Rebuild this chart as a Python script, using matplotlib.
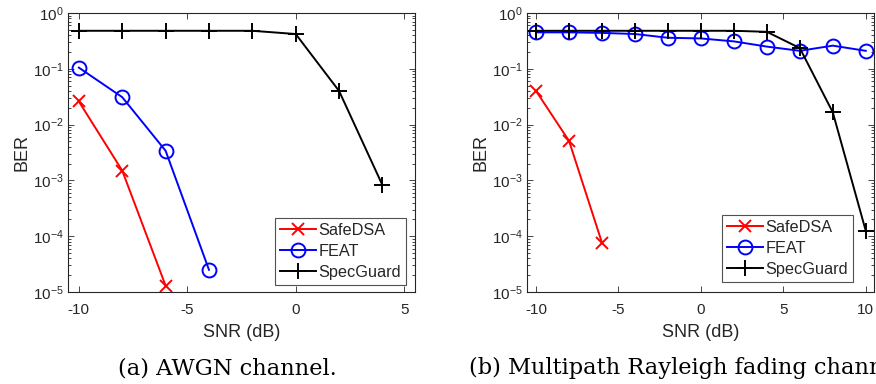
import matplotlib
matplotlib.use("Agg")
import matplotlib.pyplot as plt
from matplotlib.ticker import LogLocator, NullFormatter

snr_a = [-10, -8, -6, -4, -2, 0, 2, 4]
safedsa_a = [0.026, 0.0015, 1.3e-5]
feat_a = [0.105, 0.031, 0.0034, 2.5e-5]
specguard_a = [0.48, 0.48, 0.48, 0.48, 0.48, 0.42, 0.040, 8.2e-4]

snr_b = [-10, -8, -6, -4, -2, 0, 2, 4, 6, 8, 10]
safedsa_b = [0.040, 0.0051, 7.6e-5]
feat_b = [0.45, 0.45, 0.44, 0.42, 0.36, 0.35, 0.31, 0.25, 0.21, 0.26, 0.21]
specguard_b = [0.48, 0.48, 0.48, 0.48, 0.48, 0.48, 0.48, 0.46, 0.235, 0.0166, 1.25e-4]

labels = ["SafeDSA", "FEAT", "SpecGuard"]
captions = ["(a) AWGN channel.", "(b) Multipath Rayleigh fading channel."]

plt.rcParams['font.family'] = ['Liberation Sans', 'DejaVu Sans']
plt.rcParams['axes.unicode_minus'] = False
plt.rcParams['mathtext.default'] = 'regular'

fig = plt.figure(figsize=(8.76, 3.84), dpi=100)
W, H = 876, 384
TXT = '#262626'

def add_ax(l, r, t, b):
    return fig.add_axes([l / W, 1 - b / H, (r - l) / W, (b - t) / H])

ax1 = add_ax(68, 415, 13, 292)
ax2 = add_ax(527, 874, 13, 292)

def style(ax, xlim, xticks):
    ax.set_yscale('log')
    ax.set_ylim(1e-5, 1)
    ax.set_xlim(*xlim)
    ax.set_xticks(xticks)
    ax.set_yticks([1e-5, 1e-4, 1e-3, 1e-2, 1e-1, 1])
    ax.yaxis.set_minor_locator(LogLocator(base=10, subs=range(2, 10), numticks=20))
    ax.yaxis.set_minor_formatter(NullFormatter())
    ax.tick_params(which='both', direction='in', top=True, right=True,
                   labelsize=11, color=TXT, width=0.6, labelcolor=TXT)
    ax.tick_params(which='major', length=4.5)
    ax.tick_params(which='minor', length=2.2)
    ax.tick_params(axis='x', pad=8)
    ax.tick_params(axis='y', pad=3)
    for s in ax.spines.values():
        s.set_linewidth(0.8)
        s.set_color(TXT)
    ax.set_xlabel('SNR (dB)', fontsize=13, color=TXT, labelpad=5)
    ax.set_ylabel('BER', fontsize=13, color=TXT, labelpad=2)

def draw(ax, snr, s, f, g, anchor):
    ax.plot(snr[:len(s)], s, color='red', marker='x', markersize=8.5, mew=1.4, lw=1.4, label=labels[0])
    ax.plot(snr[:len(f)], f, color='blue', marker='o', markersize=10, mfc='none', mew=1.4, lw=1.4, label=labels[1])
    ax.plot(snr[:len(g)], g, color='black', marker='+', markersize=12, mew=1.4, lw=1.4, label=labels[2])
    leg = ax.legend(loc='lower right', bbox_to_anchor=anchor, fontsize=11.7, frameon=True,
                    fancybox=False, edgecolor=TXT, borderpad=0.3, labelspacing=0.38,
                    handlelength=2.2, handletextpad=0.15, borderaxespad=0.0)
    leg.get_frame().set_linewidth(0.8)
    for t in leg.get_texts():
        t.set_color(TXT)

draw(ax1, snr_a, safedsa_a, feat_a, specguard_a, (0.974, 0.025))
draw(ax2, snr_b, safedsa_b, feat_b, specguard_b, (0.939, 0.036))
style(ax1, (-10.5, 5.5), [-10, -5, 0, 5])
style(ax2, (-10.55, 10.5), [-10, -5, 0, 5, 10])

fig.text(227 / W, 1 - 374 / H, captions[0], ha='center', va='baseline',
         fontsize=16.2, family=['DejaVu Serif'])
fig.text(469 / W, 1 - 374 / H, captions[1], ha='left', va='baseline',
         fontsize=16.2, family=['DejaVu Serif'])

fig.savefig('out.png', dpi=100)
